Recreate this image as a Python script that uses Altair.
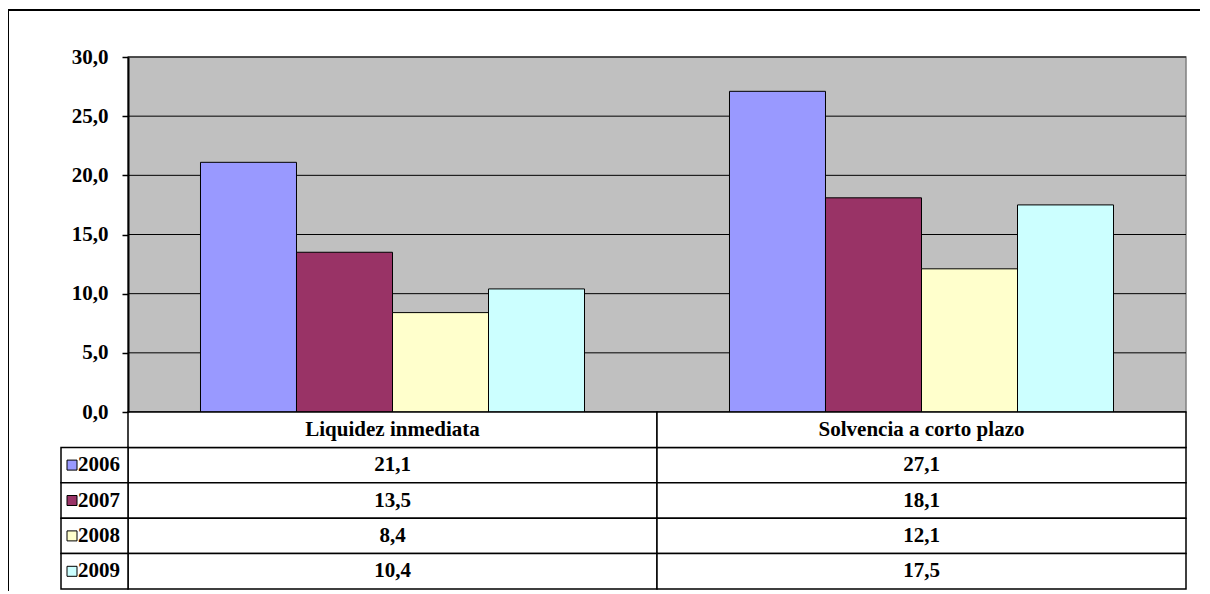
import altair as alt
import pandas as pd

categories = ["Liquidez inmediata", "Solvencia a corto plazo"]
years = ["2006", "2007", "2008", "2009"]
v2006 = [21.1, 27.1]
v2007 = [13.5, 18.1]
v2008 = [8.4, 12.1]
v2009 = [10.4, 17.5]
colors = ["#9999FF", "#993366", "#FFFFCC", "#CCFFFF"]
y_ticks = [0, 5, 10, 15, 20, 25, 30]

series = {"2006": v2006, "2007": v2007, "2008": v2008, "2009": v2009}
rows = []
for yr in years:
    for c, v in zip(categories, series[yr]):
        rows.append({"cat": c, "year": yr, "row": yr, "value": v,
                     "label": f"{v:.1f}".replace(".", ",")})
bars_df = pd.DataFrame(rows)
header_df = pd.DataFrame({"cat": categories, "row": ["h", "h"], "label": categories})
table_df = pd.concat([bars_df[["cat", "row", "label"]], header_df], ignore_index=True)
years_df = pd.DataFrame({"year": years, "row": years})
ticks_df = pd.DataFrame({"t": y_ticks})
one_df = pd.DataFrame({"a": [0]})

W, H = 1058, 532
PLOT_H = 355
FONT = "Liberation Serif, Times New Roman, DejaVu Serif, serif"
FS = 21

row_domain = ["h"] + years

def yq():
    return alt.Scale(domain=[0, 30], range=[PLOT_H, 0], nice=False, zero=True)

def yrow():
    return alt.Scale(domain=row_domain, range=[PLOT_H, H], paddingInner=0, paddingOuter=0)

xcat = alt.X("cat:N", sort=categories, scale=alt.Scale(domain=categories, paddingInner=0, paddingOuter=0), axis=None)
color_scale = alt.Scale(domain=years, range=colors)

bg = alt.Chart(one_df).mark_rect(fill="#C0C0C0", stroke="#808080", strokeWidth=1.5).encode(
    x=alt.value(0), x2=alt.value(W),
    y=alt.YDatum(30, type="quantitative", scale=yq(), axis=None),
    y2=alt.Y2Datum(0),
)

grid = alt.Chart(ticks_df).mark_rule(color="black", strokeWidth=1).encode(
    x=alt.value(0), x2=alt.value(W),
    y=alt.Y("t:Q", scale=yq(), axis=None),
)

bars = alt.Chart(bars_df).mark_bar(stroke="black", strokeWidth=1).encode(
    x=xcat,
    xOffset=alt.XOffset("year:N", sort=years, scale=alt.Scale(domain=years, paddingInner=0, paddingOuter=0.755)),
    y=alt.Y("value:Q", scale=yq(), axis=alt.Axis(
        values=y_ticks, grid=False, title=None,
        labelExpr="replace(format(datum.value, '.1f'), '.', ',')",
        domainColor="black", domainWidth=2, tickColor="black", tickWidth=1.5, tickSize=6,
        labelFont=FONT, labelFontSize=FS, labelFontWeight="bold", labelColor="black",
        labelPadding=14, zindex=1)),
    color=alt.Color("year:N", scale=color_scale, legend=None),
)

cells = alt.Chart(table_df).mark_rect(fill="white", stroke="black", strokeWidth=1.5).encode(
    x=xcat,
    y=alt.Y("row:N", sort=row_domain, scale=yrow(), axis=None),
)

cell_text = alt.Chart(table_df).mark_text(font=FONT, fontSize=FS, fontWeight="bold", color="black").encode(
    x=xcat,
    y=alt.Y("row:N", sort=row_domain, scale=yrow(), axis=None),
    text="label:N",
)

label_cells = alt.Chart(years_df).mark_rect(fill="white", stroke="black", strokeWidth=1.5).encode(
    x=alt.value(-67), x2=alt.value(0),
    y=alt.Y("row:N", sort=row_domain, scale=yrow(), axis=None),
)

swatches = alt.Chart(years_df).mark_point(shape="square", filled=True, size=100, stroke="black", strokeWidth=1, opacity=1).encode(
    x=alt.value(-56),
    y=alt.Y("row:N", sort=row_domain, scale=yrow(), axis=None),
    fill=alt.Fill("year:N", scale=color_scale, legend=None),
)

year_text = alt.Chart(years_df).mark_text(align="left", font=FONT, fontSize=FS, fontWeight="bold", color="black").encode(
    x=alt.value(-50),
    y=alt.Y("row:N", sort=row_domain, scale=yrow(), axis=None),
    text="year:N",
)

frame_top = alt.Chart(one_df).mark_rule(color="black", strokeWidth=2).encode(
    x=alt.value(-120), x2=alt.value(1090), y=alt.value(-47))
frame_left = alt.Chart(one_df).mark_rule(color="black", strokeWidth=2).encode(
    x=alt.value(-120), y=alt.value(-47), y2=alt.value(560))

chart = alt.layer(
    bg, grid, bars, cells, cell_text, label_cells, swatches, year_text, frame_top, frame_left
).resolve_scale(y="independent").properties(
    width=W, height=H,
    autosize=alt.AutoSizeParams(type="none"),
    padding={"left": 120, "top": 49, "right": 14, "bottom": 2},
    background="white",
).configure_view(stroke=None)

chart.save("out.html", embed_options={"renderer": "svg", "actions": False})
